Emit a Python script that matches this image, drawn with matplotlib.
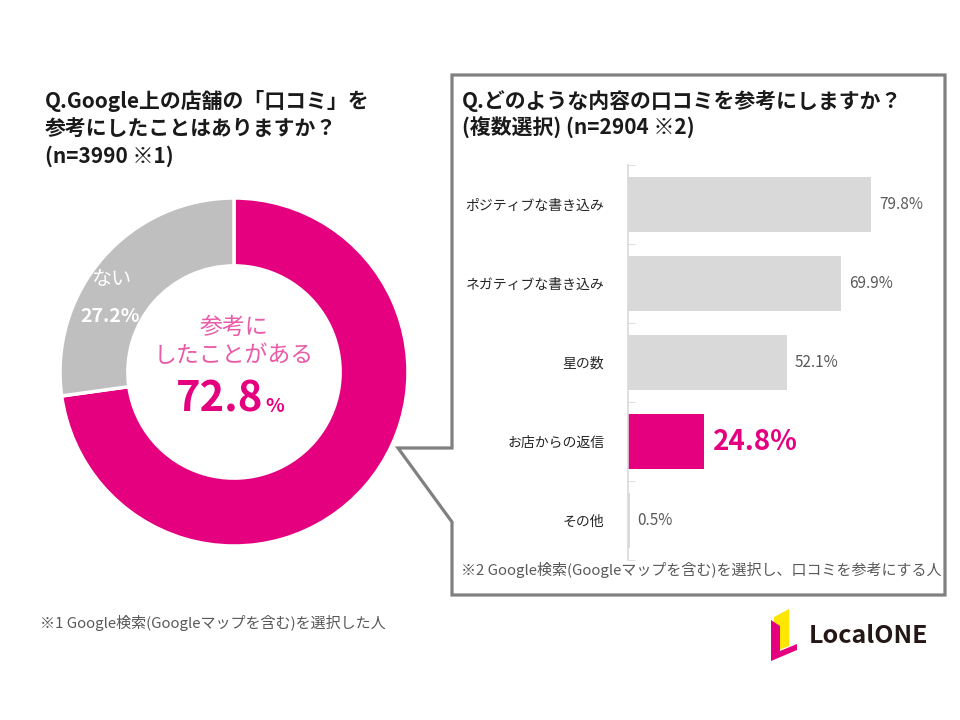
import matplotlib
matplotlib.use("Agg")
import matplotlib.pyplot as plt
from matplotlib.patches import Polygon

plt.rcParams['font.family'] = ['Noto Sans CJK JP', 'DejaVu Sans']

# 円グラフのデータ
pie_labels = ["参考にしたことがある", "参考にしたことがない"]
pie_values = [72.8, 27.2]

# 棒グラフのデータ
bar_labels = ["ポジティブな書き込み", "ネガティブな書き込み", "星の数", "お店からの返信", "その他"]
bar_values = [79.8, 69.9, 52.1, 24.8, 0.5]
highlight = 3

PINK = "#E4007F"
GRAY = "#BFBFBF"
BAR_GRAY = "#D9D9D9"

W, H = 960, 720
fig = plt.figure(figsize=(9.6, 7.2), dpi=100)

# 背景用 (ピクセル座標)
bg = fig.add_axes([0, 0, 1, 1])
bg.set_xlim(0, W)
bg.set_ylim(H, 0)
bg.axis("off")
bg.set_zorder(2)

# 吹き出し枠
callout = [(452, 448), (452, 75), (945, 75), (945, 595), (452, 595),
           (452, 522), (398, 448)]
bg.add_patch(Polygon(callout, closed=True, facecolor="white",
                     edgecolor="#808080", linewidth=2.3, joinstyle="miter"))

# 左タイトル
for i, line in enumerate(["Q.Google上の店舗の「口コミ」を",
                          "参考にしたことはありますか？",
                          "(n=3990 ※1)"]):
    bg.text(45, 101 + i * 27.5, line, fontsize=15, fontweight="bold",
            color="#1a1a1a", va="center", ha="left")

# 右タイトル
bg.text(462, 101, "Q.どのような内容の口コミを参考にしますか？", fontsize=15,
        fontweight="bold", color="#1a1a1a", va="center", ha="left")
bg.text(462, 128, "(複数選択) (n=2904 ※2)", fontsize=15,
        fontweight="bold", color="#1a1a1a", va="center", ha="left")

# 注釈
bg.text(40, 623, "※1 Google検索(Googleマップを含む)を選択した人", fontsize=10.8,
        color="#595959", va="center", ha="left")
bg.text(461, 570, "※2 Google検索(Googleマップを含む)を選択し、口コミを参考にする人",
        fontsize=10.8, color="#595959", va="center", ha="left")

# ロゴ
bg.add_patch(Polygon([(774, 617), (789, 609), (789, 646), (774, 652)],
                     closed=True, facecolor="#FFE600", edgecolor="none"))
bg.add_patch(Polygon([(771, 620), (780, 626), (780, 651), (797, 644),
                      (797, 650), (771, 661)],
                     closed=True, facecolor=PINK, edgecolor="none"))
bg.text(809, 636, "LocalONE", fontsize=18, fontweight="bold",
        color="#231815", va="center", ha="left")

# ドーナツグラフ
cx, cy, r = 234, 372, 174
pad = 180
ax1 = fig.add_axes([(cx - pad) / W, (H - cy - pad) / H, 2 * pad / W, 2 * pad / H])
ax1.set_zorder(1)
ax1.pie(pie_values, colors=[PINK, GRAY], startangle=90, counterclock=False,
        radius=1.0, wedgeprops=dict(width=0.39, edgecolor="white", linewidth=2.5))
lim = pad / r
ax1.set_xlim(-lim, lim)
ax1.set_ylim(-lim, lim)
ax1.set_aspect("equal")
ax1.axis("off")

bg.text(cx, 327, "参考に", fontsize=16.5, color="#E95BA8", ha="center", va="center")
bg.text(cx, 356, "したことがある", fontsize=16.5, color="#E95BA8", ha="center", va="center")
bg.text(263, 412, f"{pie_values[0]}", fontsize=30, fontweight="bold",
        color=PINK, ha="right", va="baseline")
bg.text(265, 412, "%", fontsize=14, fontweight="bold", color=PINK,
        ha="left", va="baseline")
bg.text(91, 280, "ない", fontsize=14.5, color="white", ha="left", va="center")
bg.text(80, 316, f"{pie_values[1]}%", fontsize=14, fontweight="bold",
        color="white", ha="left", va="center")

# 横棒グラフ
x0, x1, ytop, ybot = 628, 928, 165, 560
ax2 = fig.add_axes([x0 / W, (H - ybot) / H, (x1 - x0) / W, (ybot - ytop) / H])
ax2.set_zorder(3)
ax2.set_facecolor("none")
pos = list(range(len(bar_values)))
colors = [PINK if i == highlight else BAR_GRAY for i in pos]
ax2.barh(pos, bar_values, height=0.7, color=colors)
ax2.set_xlim(0, 300 / 3.045)
ax2.set_ylim(len(bar_values) - 0.5, -0.5)
for s in ["top", "right", "bottom"]:
    ax2.spines[s].set_visible(False)
ax2.spines["left"].set_color(BAR_GRAY)
ax2.spines["left"].set_linewidth(1.2)
ax2.set_xticks([])
ax2.set_yticks(pos)
ax2.set_yticklabels(bar_labels, fontsize=10, color="#262626")
ax2.tick_params(axis="y", length=0, pad=17)
ax2.set_yticks([p - 0.5 for p in pos] + [len(pos) - 0.5], minor=True)
ax2.tick_params(axis="y", which="minor", length=5, color=BAR_GRAY, direction="in")

for i, v in enumerate(bar_values):
    if i == highlight:
        ax2.text(v + 3, i, f"{v}%", fontsize=20, fontweight="bold", color=PINK,
                 ha="left", va="center")
    else:
        ax2.text(v + 2.6, i, f"{v}%", fontsize=11, color="#595959",
                 ha="left", va="center")

fig.savefig("out.png", dpi=100, facecolor="white")
